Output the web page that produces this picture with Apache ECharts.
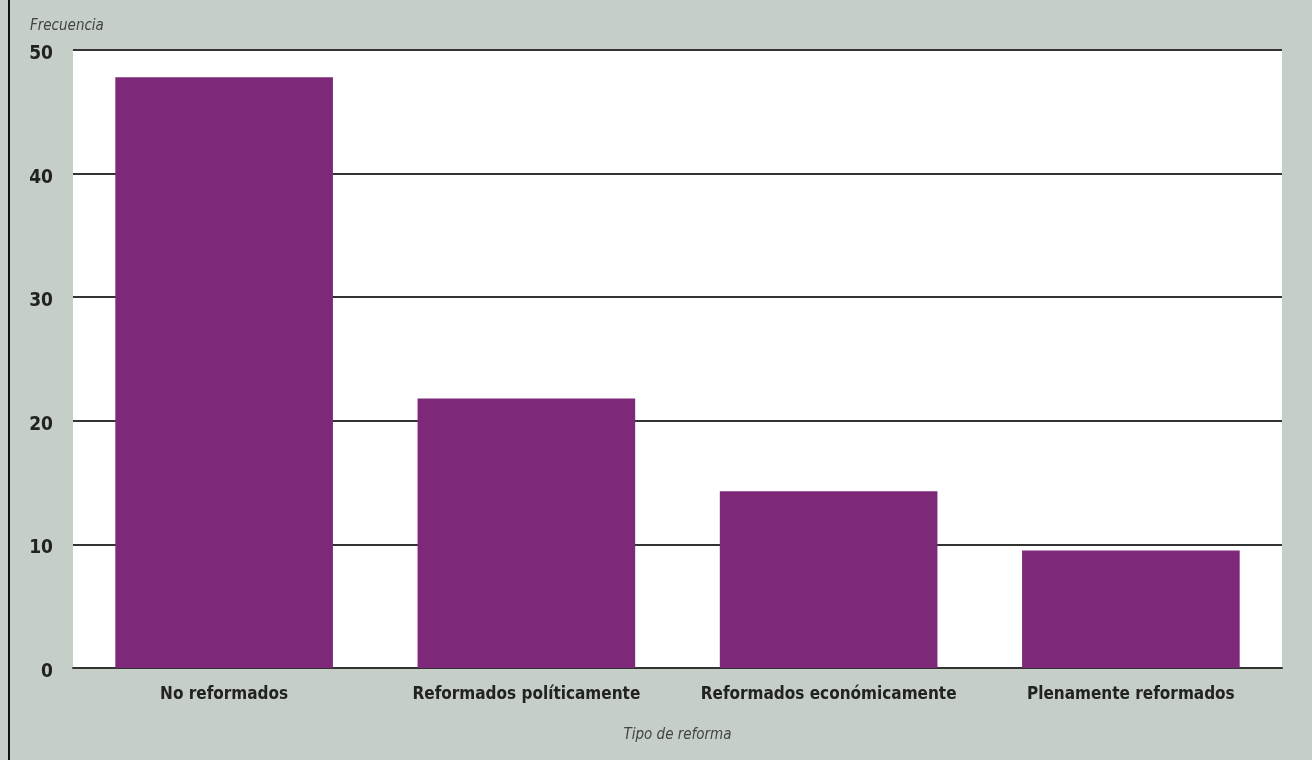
<!DOCTYPE html>
<html>
<head>
<meta charset="utf-8">
<style>
  html, body { margin: 0; padding: 0; background: #c5cfc7; }
  #chart { width: 1312px; height: 760px; }
</style>
<script src="https://cdn.jsdelivr.net/npm/echarts@6/dist/echarts.min.js"></script>
</head>
<body>
<div id="chart"></div>
<script>
// Frecuencia de países según tipo de reforma
const categories = ['No reformados', 'Reformados políticamente', 'Reformados económicamente', 'Plenamente reformados'];
const frecuencias = [47.8, 21.8, 14.3, 9.5];
const yTicks = [0, 10, 20, 30, 40, 50];

const condensed = '"Liberation Sans Narrow", "DejaVu Sans Condensed", "Roboto Condensed", sans-serif';

const chart = echarts.init(document.getElementById('chart'), null, { renderer: 'canvas' });

chart.setOption({
  backgroundColor: '#c5cfc7',
  animation: false,
  grid: {
    left: 73, right: 30, top: 50, bottom: 92,
    show: true, backgroundColor: '#ffffff', borderWidth: 0
  },
  graphic: [
    { type: 'line', shape: { x1: 9, y1: 0, x2: 9, y2: 760 }, style: { stroke: '#111', lineWidth: 2 } },
    { type: 'text', left: 30, top: 19,
      style: { text: 'Frecuencia', font: 'italic 15px ' + condensed, fill: '#444' } }
  ],
  xAxis: {
    type: 'category',
    data: categories,
    name: 'Tipo de reforma',
    nameLocation: 'middle',
    nameGap: 60,
    nameTextStyle: { fontFamily: condensed, fontStyle: 'italic', fontSize: 15, color: '#444' },
    axisLine: { show: true, lineStyle: { color: '#333', width: 2 } },
    axisTick: { show: false },
    axisLabel: { interval: 0, fontFamily: condensed, fontWeight: 'bold', fontSize: 17, color: '#222', margin: 18 }
  },
  yAxis: {
    type: 'value',
    min: yTicks[0],
    max: yTicks[yTicks.length - 1],
    interval: yTicks[1] - yTicks[0],
    axisLine: { show: false },
    axisTick: { show: false },
    axisLabel: {
      margin: 20,
      formatter: '{v|{value}}',
      rich: {
        v: { fontFamily: condensed, fontWeight: 'bold', fontSize: 19, color: '#222', padding: [8, 0, 0, 0] }
      }
    },
    splitLine: { show: true, lineStyle: { color: '#333', width: 2 } }
  },
  series: [{
    type: 'bar',
    data: frecuencias,
    barWidth: '72%',
    itemStyle: { color: '#7e2879' },
    z: 3
  }]
});
</script>
</body>
</html>
